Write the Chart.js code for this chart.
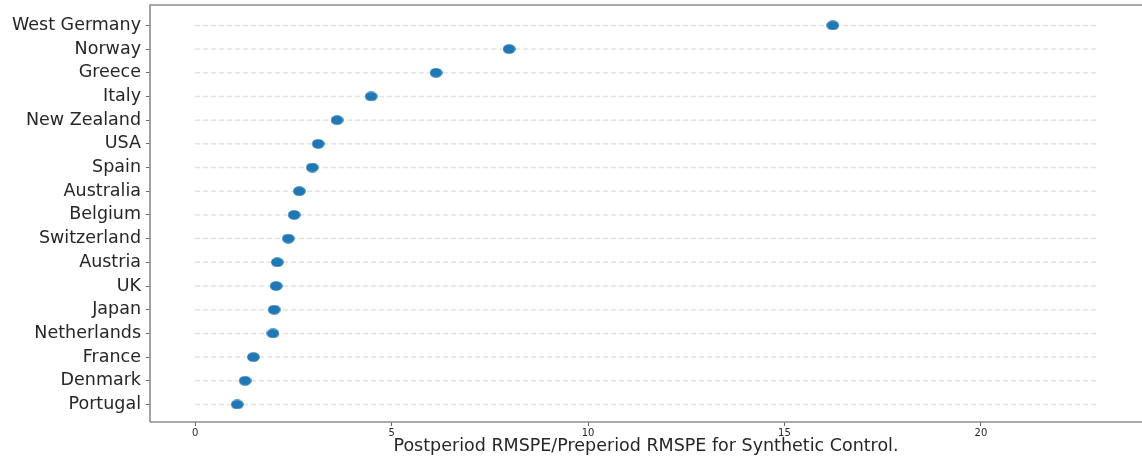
<!DOCTYPE html>
<html>
<head>
<meta charset="utf-8">
<script src="https://cdn.jsdelivr.net/npm/chart.js@4"></script>
<style>
  html, body { margin: 0; padding: 0; background: #fff; }
  #wrap { width: 1142px; height: 462px; }
</style>
</head>
<body>
<div id="wrap"><canvas id="chart"></canvas></div>
<script>
// bottom to top
const countries = [
  "Portugal", "Denmark", "France", "Netherlands", "Japan", "UK", "Austria",
  "Switzerland", "Belgium", "Australia", "Spain", "USA", "New Zealand",
  "Italy", "Greece", "Norway", "West Germany"
];
const ratios = [
  1.07, 1.27, 1.48, 1.98, 2.01, 2.06, 2.09,
  2.37, 2.52, 2.65, 2.98, 3.13, 3.61,
  4.48, 6.13, 7.99, 16.23
];
const xTicks = [0, 5, 10, 15, 20];
const lineStart = 0;
const lineEnd = 22.95;
const xTitle = "Postperiod RMSPE/Preperiod RMSPE for Synthetic Control.";

const blue = "#1f77b4";
const font = "'DejaVu Sans', sans-serif";

// slightly wide dot like the picture
const dot = document.createElement("canvas");
dot.width = 13;
dot.height = 10;
const dctx = dot.getContext("2d");
dctx.fillStyle = blue;
dctx.beginPath();
dctx.ellipse(6.5, 5, 6.3, 4.8, 0, 0, Math.PI * 2);
dctx.fill();

const spines = {
  id: "spines",
  afterDatasetsDraw(chart) {
    const { ctx, chartArea: a } = chart;
    ctx.save();
    ctx.strokeStyle = "#8c8c8c";
    ctx.lineWidth = 1.6;
    ctx.beginPath();
    ctx.moveTo(a.left, a.bottom);
    ctx.lineTo(a.left, a.top);
    ctx.lineTo(a.right + 2, a.top);
    ctx.moveTo(a.left, a.bottom);
    ctx.lineTo(a.right + 2, a.bottom);
    ctx.stroke();
    ctx.restore();
  }
};

const guideLines = countries.map((c, i) => ({
  type: "line",
  data: [{ x: lineStart, y: i }, { x: lineEnd, y: i }],
  borderColor: "#e2e2e2",
  borderWidth: 1.5,
  borderDash: [5, 3],
  pointRadius: 0,
  showLine: true,
  order: 1
}));

new Chart(document.getElementById("chart"), {
  type: "scatter",
  data: {
    datasets: [
      {
        data: ratios.map((v, i) => ({ x: v, y: i })),
        pointStyle: dot,
        pointRadius: 6,
        order: 0
      },
      ...guideLines
    ]
  },
  options: {
    responsive: true,
    maintainAspectRatio: false,
    animation: false,
    events: [],
    layout: { autoPadding: false, padding: { top: 5, right: 0, left: 0, bottom: 0 } },
    plugins: {
      legend: { display: false },
      tooltip: { enabled: false }
    },
    scales: {
      x: {
        type: "linear",
        min: -1.15,
        max: 24.1,
        afterBuildTicks: (axis) => {
          axis.ticks = xTicks.map((v) => ({ value: v }));
        },
        afterFit: (axis) => {
          axis.height = 40;
          axis.paddingLeft = 0;
          axis.paddingRight = 0;
        },
        border: { display: false },
        grid: {
          display: true,
          drawOnChartArea: false,
          drawTicks: true,
          tickLength: 4,
          tickColor: "#666"
        },
        ticks: {
          padding: 1,
          color: "#262626",
          font: { family: font, size: 10 }
        },
        title: {
          display: true,
          text: xTitle,
          color: "#262626",
          font: { family: font, size: 17.5 },
          padding: { top: 0, bottom: 5 }
        }
      },
      y: {
        type: "linear",
        min: -0.74,
        max: 16.86,
        afterBuildTicks: (axis) => {
          axis.ticks = countries.map((c, i) => ({ value: i }));
        },
        afterFit: (axis) => {
          axis.width = 150;
          axis.paddingTop = 0;
          axis.paddingBottom = 0;
        },
        border: { display: false },
        grid: {
          display: true,
          drawOnChartArea: false,
          drawTicks: true,
          tickLength: 4,
          tickColor: "#666"
        },
        ticks: {
          padding: 5,
          color: "#262626",
          font: { family: font, size: 17.5 },
          callback: (v) => countries[v]
        }
      }
    }
  },
  plugins: [spines]
});
</script>
</body>
</html>
